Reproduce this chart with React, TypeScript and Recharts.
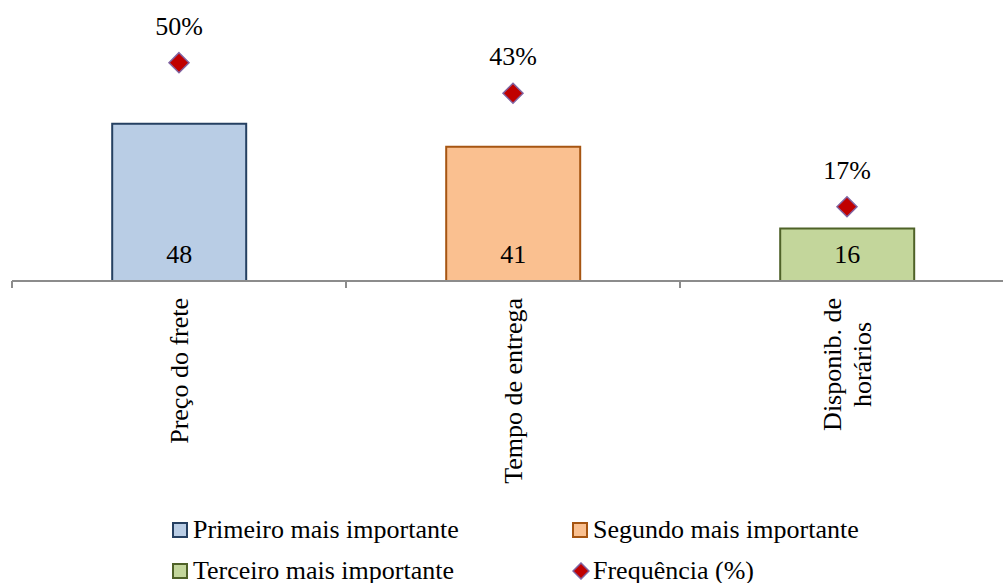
import { Bar, Cell, ComposedChart, LabelList, Legend, Line, XAxis, YAxis } from "recharts";

const categories = ["Preço do frete", "Tempo de entrega", "Disponib. de\nhorários"];
const counts = [48, 41, 16];
const frequency = [50, 43, 17];

const seriesNames = [
  "Primeiro mais importante",
  "Segundo mais importante",
  "Terceiro mais importante",
  "Frequência (%)",
];

const barFills = ["#B9CDE5", "#FAC090", "#C3D69B"];
const barStrokes = ["#254061", "#A65512", "#4F6228"];

const data = categories.map((name, i) => ({
  name,
  count: counts[i],
  freq: frequency[i],
}));

const FONT = "'Liberation Serif', 'Times New Roman', monospace";
const FONT_SIZE = 26;
const CHART_W = 1014;
const CHART_H = 583;
const MARGIN = { top: 19, right: 0, left: 12, bottom: 0 };

let measureCtx: CanvasRenderingContext2D | null = null;
function textWidth(s: string) {
  if (!measureCtx) {
    measureCtx = document.createElement("canvas").getContext("2d");
  }
  if (!measureCtx) return s.length * FONT_SIZE * 0.45;
  measureCtx.font = `${FONT_SIZE}px ${FONT}`;
  return measureCtx.measureText(s).width;
}

// rotated category label, lines centred on each other, plus a tick at the band's left edge
function CategoryTick(props: any) {
  const { x, y, payload } = props;
  const band = (CHART_W - MARGIN.left - MARGIN.right) / categories.length;
  const lines = String(payload.value).split("\n");
  const longest = Math.max(...lines.map(textWidth));
  const cy = y + 9 + longest / 2;
  const lineGap = 30;
  return (
    <g>
      <line x1={x - band / 2} x2={x - band / 2} y1={y - 8} y2={y - 1} stroke="#8C8C8C" strokeWidth={2} />
      {payload.index === categories.length - 1 && (
        <line x1={x + band / 2} x2={x + band / 2} y1={y - 8} y2={y - 1} stroke="#8C8C8C" strokeWidth={2} />
      )}
      {lines.map((ln, i) => {
        const off = (i - (lines.length - 1) / 2) * lineGap + 9;
        return (
          <text
            key={i}
            transform={`translate(${x + off},${cy}) rotate(-90)`}
            textAnchor="middle"
            style={{ fontFamily: FONT, fontSize: FONT_SIZE }}
            fill="#000"
          >
            {ln}
          </text>
        );
      })}
    </g>
  );
}

function Diamond(props: any) {
  const { cx, cy, index } = props;
  const r = 10;
  return (
    <polygon
      key={`d-${index}`}
      points={`${cx},${cy - r} ${cx + r},${cy} ${cx},${cy + r} ${cx - r},${cy}`}
      fill="#C00000"
      stroke="#8064A2"
      strokeWidth={1.5}
    />
  );
}

function LegendBox() {
  const swatch = (i: number) =>
    i < 3 ? (
      <svg width={16} height={16} style={{ marginRight: 5 }}>
        <rect x={1} y={1} width={14} height={14} fill={barFills[i]} stroke={barStrokes[i]} strokeWidth={2} />
      </svg>
    ) : (
      <svg width={18} height={18} style={{ marginRight: 3 }}>
        <polygon points="9,1 17,9 9,17 1,9" fill="#C00000" stroke="#8064A2" strokeWidth={1.5} />
      </svg>
    );
  return (
    <div
      style={{
        display: "grid",
        gridTemplateColumns: "400px 400px",
        gridAutoRows: "41px",
        paddingLeft: 172,
        paddingTop: 6,
        fontFamily: FONT,
        fontSize: FONT_SIZE,
        lineHeight: "26px",
        color: "#000",
      }}
    >
      {seriesNames.map((n, i) => (
        <div key={n} style={{ display: "flex", alignItems: "center" }}>
          {swatch(i)}
          <span>{n}</span>
        </div>
      ))}
    </div>
  );
}

const labelStyle = { fontFamily: FONT, fontSize: FONT_SIZE };

export default function App() {
  return (
    <div
      style={{
        position: "absolute",
        left: 0,
        top: 0,
        width: 1003,
        height: 583,
        overflow: "hidden",
        background: "#fff",
        fontFamily: FONT,
      }}
    >
      <ComposedChart width={CHART_W} height={CHART_H} data={data} margin={MARGIN} barCategoryGap="30%">
        <XAxis
          dataKey="name"
          height={222}
          interval={0}
          tickLine={false}
          axisLine={{ stroke: "#8C8C8C", strokeWidth: 2 }}
          tick={<CategoryTick />}
        />
        <YAxis yAxisId="left" hide domain={[0, 80]} />
        <YAxis yAxisId="right" orientation="right" hide domain={[0, 60]} width={0} />
        <Bar yAxisId="left" dataKey="count" strokeWidth={2} isAnimationActive={false}>
          {data.map((d, i) => (
            <Cell key={d.name} fill={barFills[i]} stroke={barStrokes[i]} />
          ))}
          <LabelList dataKey="count" position="insideBottom" offset={18} fill="#000" style={labelStyle} />
        </Bar>
        <Line
          yAxisId="right"
          dataKey="freq"
          stroke="none"
          dot={<Diamond />}
          activeDot={false}
          isAnimationActive={false}
        >
          <LabelList
            dataKey="freq"
            position="top"
            offset={28}
            fill="#000"
            style={labelStyle}
            formatter={(v: any) => `${v}%`}
          />
        </Line>
        <Legend
          verticalAlign="bottom"
          height={80}
          wrapperStyle={{ left: 0, width: 1003 }}
          content={() => <LegendBox />}
        />
      </ComposedChart>
    </div>
  );
}
